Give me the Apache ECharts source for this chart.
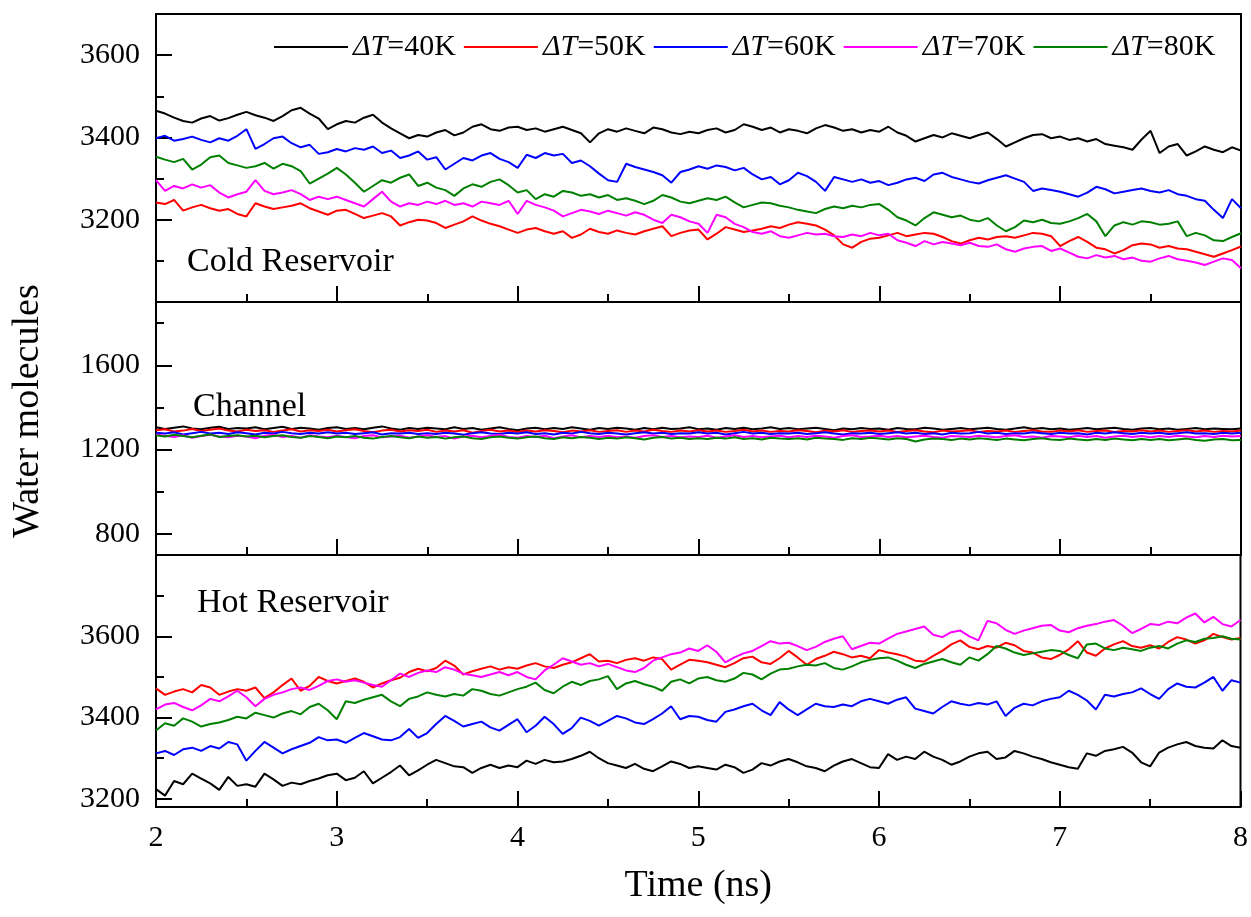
<!DOCTYPE html>
<html>
<head>
<meta charset="utf-8">
<title>Water molecules</title>
<script src="https://cdn.jsdelivr.net/npm/echarts@6.0.0/dist/echarts.min.js"></script>
<style>
html, body { margin: 0; padding: 0; background: #fff; }
#main { width: 1251px; height: 917px; }
</style>
</head>
<body>
<div id="main"></div>
<script>
// every series is sampled from 2 ns to 8 ns, one value every 0.05 ns (121 values)
var tStart = 2;
var tStep = 0.05;

var names = ['ΔT=40K', 'ΔT=50K', 'ΔT=60K', 'ΔT=70K', 'ΔT=80K'];
var colors = ['#000000', '#ff0000', '#0000ff', '#ff00ff', '#008000'];
var panelNames = ['Cold Reservoir', 'Channel', 'Hot Reservoir'];

// y ranges and ticks of the three panels
var coldRange = [3000, 3700];
var coldTicks = [3200, 3400, 3600];
var coldMinor = [3100, 3300, 3500];
var chanRange = [700, 1900];
var chanTicks = [800, 1200, 1600];
var chanMinor = [1000, 1400, 1800];
var hotRange = [3180, 3800];
var hotTicks = [3200, 3400, 3600];
var hotMinor = [3300, 3500, 3700];

// Cold Reservoir
var cold40 = [3465,3458,3448,3440,3436,3446,3452,3441,3447,3455,
	3462,3454,3448,3440,3452,3466,3472,3458,3446,3420,
	3432,3440,3436,3448,3455,3436,3422,3410,3398,3406,
	3402,3412,3418,3405,3412,3426,3432,3420,3416,3424,
	3426,3418,3422,3414,3420,3426,3418,3410,3388,3410,
	3420,3414,3422,3416,3410,3424,3420,3412,3408,3414,
	3410,3418,3422,3412,3418,3432,3426,3418,3424,3412,
	3420,3416,3410,3422,3430,3424,3416,3420,3412,3418,
	3414,3426,3412,3404,3390,3398,3406,3400,3410,3404,
	3398,3406,3412,3396,3378,3388,3398,3406,3408,3398,
	3402,3394,3398,3390,3396,3384,3380,3376,3370,3395,
	3416,3362,3378,3384,3356,3366,3378,3370,3364,3376,
	3368];
var cold50 = [3242,3238,3248,3222,3230,3236,3228,3222,3226,3214,
	3208,3240,3232,3226,3230,3234,3240,3228,3220,3212,
	3222,3224,3214,3204,3210,3216,3208,3186,3194,3200,
	3198,3192,3180,3188,3196,3208,3198,3190,3184,3176,
	3168,3176,3180,3172,3166,3172,3156,3164,3178,3170,
	3166,3174,3168,3164,3172,3178,3184,3160,3168,3174,
	3176,3152,3166,3182,3176,3170,3174,3178,3184,3180,
	3188,3194,3190,3186,3176,3162,3140,3132,3146,3154,
	3156,3162,3168,3160,3164,3168,3166,3158,3148,3142,
	3150,3156,3152,3158,3160,3156,3162,3168,3166,3160,
	3136,3148,3158,3146,3132,3128,3118,3126,3138,3142,
	3140,3132,3136,3130,3128,3122,3116,3110,3118,3126,
	3135];
var cold60 = [3398,3404,3392,3396,3402,3394,3388,3398,3392,3404,
	3420,3372,3384,3398,3402,3386,3376,3382,3360,3364,
	3372,3366,3374,3370,3378,3362,3368,3350,3356,3366,
	3346,3352,3322,3336,3350,3344,3356,3362,3348,3340,
	3326,3358,3350,3362,3356,3360,3338,3344,3330,3312,
	3296,3292,3336,3328,3322,3316,3308,3290,3316,3322,
	3330,3324,3332,3328,3320,3326,3310,3298,3304,3286,
	3296,3314,3306,3292,3270,3304,3298,3292,3298,3290,
	3294,3284,3290,3298,3302,3294,3310,3314,3304,3298,
	3292,3288,3296,3302,3308,3300,3292,3270,3276,3272,
	3268,3262,3256,3266,3280,3274,3264,3268,3272,3276,
	3270,3266,3272,3262,3258,3250,3246,3224,3204,3250,
	3228];
var cold70 = [3296,3270,3282,3276,3286,3278,3284,3266,3254,3262,
	3268,3296,3270,3262,3266,3272,3262,3248,3256,3250,
	3256,3248,3240,3232,3250,3268,3244,3232,3240,3236,
	3244,3238,3246,3236,3240,3232,3244,3240,3236,3246,
	3214,3246,3236,3230,3222,3208,3216,3224,3220,3214,
	3222,3216,3210,3218,3212,3200,3192,3212,3206,3196,
	3190,3168,3212,3206,3190,3182,3170,3166,3172,3160,
	3156,3162,3168,3164,3166,3160,3158,3164,3160,3168,
	3162,3166,3150,3144,3136,3148,3140,3146,3142,3138,
	3144,3136,3134,3140,3128,3122,3130,3134,3136,3124,
	3130,3120,3110,3106,3114,3108,3112,3104,3108,3100,
	3098,3106,3112,3104,3100,3096,3090,3098,3106,3102,
	3082];
var cold80 = [3353,3346,3340,3348,3322,3334,3352,3356,3338,3332,
	3326,3330,3338,3324,3336,3330,3318,3288,3300,3312,
	3326,3310,3290,3268,3282,3296,3290,3302,3310,3282,
	3290,3278,3272,3258,3276,3286,3280,3292,3298,3284,
	3266,3272,3250,3262,3256,3270,3266,3258,3262,3254,
	3260,3248,3252,3246,3238,3246,3260,3254,3244,3240,
	3246,3252,3248,3256,3242,3230,3236,3242,3240,3234,
	3230,3224,3220,3216,3226,3232,3228,3234,3230,3236,
	3238,3224,3206,3198,3186,3204,3218,3212,3206,3210,
	3200,3196,3204,3186,3172,3182,3198,3194,3200,3192,
	3190,3196,3204,3214,3196,3160,3186,3194,3188,3196,
	3194,3188,3190,3196,3160,3168,3162,3150,3148,3158,
	3167];

// Channel
var chan40 = [1306,1298,1304,1310,1300,1296,1304,1308,1298,1302,
	1300,1306,1296,1302,1308,1298,1304,1300,1294,1302,
	1306,1298,1302,1296,1304,1310,1300,1294,1302,1298,
	1304,1300,1296,1306,1298,1302,1294,1300,1306,1298,
	1292,1300,1304,1296,1302,1298,1306,1300,1294,1302,
	1298,1304,1300,1294,1302,1296,1304,1298,1300,1306,
	1296,1300,1294,1302,1298,1304,1296,1300,1306,1298,
	1302,1296,1300,1304,1298,1292,1300,1296,1302,1298,
	1300,1294,1302,1298,1296,1304,1300,1294,1298,1302,
	1296,1300,1304,1298,1294,1300,1306,1298,1302,1296,
	1300,1294,1298,1302,1296,1300,1304,1298,1294,1300,
	1302,1296,1300,1294,1298,1302,1296,1300,1298,1296,
	1300];
var chan50 = [1292,1296,1286,1290,1298,1288,1294,1300,1290,1286,
	1294,1288,1292,1284,1290,1296,1286,1292,1288,1294,
	1286,1292,1296,1288,1282,1290,1294,1286,1292,1288,
	1294,1284,1290,1286,1292,1280,1288,1294,1286,1290,
	1284,1290,1286,1292,1288,1282,1290,1286,1292,1284,
	1288,1292,1284,1290,1286,1294,1288,1284,1290,1286,
	1292,1286,1290,1284,1288,1294,1286,1290,1284,1288,
	1286,1292,1288,1282,1290,1286,1292,1284,1288,1290,
	1286,1290,1284,1288,1292,1286,1282,1290,1286,1288,
	1292,1284,1288,1286,1290,1284,1288,1292,1286,1284,
	1290,1286,1292,1284,1288,1290,1284,1288,1286,1292,
	1286,1290,1284,1288,1292,1286,1290,1284,1288,1286,
	1290];
var chan60 = [1280,1276,1282,1272,1278,1284,1276,1280,1274,1282,
	1278,1272,1280,1276,1284,1278,1274,1280,1276,1282,
	1276,1280,1274,1278,1282,1272,1278,1276,1280,1274,
	1278,1274,1280,1276,1270,1278,1282,1276,1274,1280,
	1276,1282,1274,1278,1272,1280,1276,1284,1278,1274,
	1280,1276,1272,1278,1282,1276,1280,1274,1278,1276,
	1282,1276,1280,1272,1278,1284,1276,1280,1274,1278,
	1276,1280,1274,1278,1282,1276,1272,1278,1276,1280,
	1274,1278,1282,1276,1280,1274,1278,1272,1280,1276,
	1278,1284,1276,1280,1274,1278,1276,1282,1278,1274,
	1280,1276,1278,1272,1280,1276,1282,1278,1274,1280,
	1276,1280,1274,1278,1282,1276,1278,1274,1280,1276,
	1280];
var chan70 = [1272,1266,1260,1268,1256,1264,1270,1262,1258,1266,
	1262,1254,1266,1270,1260,1264,1256,1268,1262,1258,
	1266,1260,1254,1264,1268,1258,1262,1266,1256,1262,
	1268,1260,1264,1252,1262,1266,1258,1264,1270,1260,
	1256,1264,1260,1266,1254,1262,1268,1258,1264,1260,
	1266,1258,1262,1256,1264,1268,1260,1264,1258,1262,
	1260,1266,1256,1262,1268,1260,1264,1258,1262,1266,
	1258,1264,1260,1266,1262,1256,1264,1268,1260,1262,
	1266,1260,1264,1258,1262,1266,1260,1256,1264,1262,
	1260,1266,1262,1258,1264,1268,1260,1262,1256,1264,
	1262,1258,1266,1260,1264,1256,1262,1266,1260,1264,
	1258,1264,1260,1266,1262,1258,1264,1260,1266,1262,
	1264];
var chan80 = [1268,1262,1270,1264,1258,1266,1272,1260,1264,1268,
	1262,1266,1258,1264,1268,1260,1256,1264,1260,1254,
	1262,1258,1264,1256,1252,1260,1264,1258,1254,1262,
	1256,1260,1252,1258,1262,1254,1250,1258,1262,1256,
	1252,1258,1262,1254,1250,1258,1254,1260,1256,1250,
	1256,1252,1258,1254,1248,1256,1260,1252,1256,1250,
	1254,1250,1256,1252,1258,1250,1254,1248,1256,1252,
	1250,1254,1248,1256,1252,1250,1246,1254,1250,1256,
	1252,1248,1254,1250,1238,1248,1252,1250,1246,1252,
	1248,1254,1250,1246,1252,1248,1244,1250,1254,1248,
	1246,1252,1248,1244,1250,1246,1252,1248,1244,1250,
	1246,1250,1244,1248,1252,1246,1242,1248,1250,1244,
	1246];

// Hot Reservoir
var hot40 = [3224,3208,3244,3236,3262,3250,3238,3222,3254,3232,
	3236,3230,3262,3248,3232,3240,3236,3244,3250,3258,
	3262,3246,3252,3268,3238,3252,3266,3282,3258,3270,
	3284,3296,3288,3280,3278,3264,3276,3284,3276,3282,
	3278,3294,3286,3296,3290,3292,3298,3306,3316,3300,
	3288,3282,3276,3286,3274,3268,3280,3292,3286,3276,
	3280,3276,3272,3284,3278,3264,3272,3288,3282,3292,
	3298,3290,3280,3276,3268,3282,3292,3298,3288,3278,
	3276,3310,3296,3304,3298,3316,3304,3296,3284,3292,
	3304,3312,3316,3298,3302,3318,3312,3304,3298,3290,
	3284,3278,3274,3312,3306,3318,3322,3328,3314,3290,
	3280,3314,3326,3334,3340,3330,3326,3324,3344,3330,
	3326];
var hot50 = [3472,3456,3464,3470,3462,3480,3474,3456,3464,3470,
	3466,3474,3448,3462,3480,3496,3466,3478,3500,3490,
	3484,3490,3496,3488,3474,3484,3492,3498,3512,3520,
	3514,3522,3540,3528,3506,3514,3520,3526,3518,3524,
	3520,3528,3534,3526,3522,3530,3536,3546,3556,3538,
	3540,3534,3542,3546,3540,3548,3544,3518,3530,3542,
	3540,3536,3530,3524,3534,3546,3550,3536,3532,3546,
	3564,3548,3530,3544,3552,3562,3556,3548,3552,3546,
	3566,3560,3556,3550,3540,3538,3552,3564,3580,3590,
	3574,3568,3576,3572,3584,3578,3564,3560,3548,3544,
	3554,3568,3588,3560,3552,3570,3580,3588,3576,3572,
	3578,3570,3586,3598,3592,3582,3590,3606,3598,3592,
	3596];
var hot60 = [3312,3318,3308,3322,3326,3318,3330,3324,3340,3334,
	3294,3318,3340,3326,3312,3322,3330,3338,3352,3344,
	3346,3338,3350,3362,3354,3346,3344,3352,3372,3350,
	3362,3384,3404,3392,3378,3384,3390,3376,3368,3382,
	3396,3364,3380,3402,3384,3360,3374,3400,3392,3380,
	3392,3404,3398,3388,3384,3396,3410,3428,3396,3404,
	3402,3394,3390,3414,3420,3428,3434,3418,3406,3438,
	3420,3406,3420,3434,3428,3426,3432,3428,3440,3446,
	3440,3434,3444,3450,3422,3416,3410,3426,3440,3434,
	3430,3436,3432,3440,3404,3424,3434,3430,3440,3446,
	3450,3466,3456,3442,3420,3456,3452,3458,3462,3472,
	3458,3446,3470,3484,3476,3474,3486,3500,3466,3492,
	3486];
var hot70 = [3420,3432,3436,3426,3418,3430,3446,3440,3452,3466,
	3450,3428,3446,3456,3462,3470,3474,3468,3478,3490,
	3494,3488,3492,3486,3480,3476,3492,3508,3500,3510,
	3516,3512,3524,3518,3508,3504,3500,3506,3512,3504,
	3512,3500,3494,3516,3530,3546,3538,3530,3534,3526,
	3532,3524,3516,3512,3522,3540,3548,3556,3560,3570,
	3564,3578,3562,3536,3548,3558,3564,3576,3588,3582,
	3584,3576,3566,3574,3586,3594,3600,3568,3576,3584,
	3582,3594,3606,3612,3618,3624,3604,3598,3610,3614,
	3600,3590,3638,3632,3616,3606,3614,3620,3626,3628,
	3614,3610,3620,3626,3630,3636,3640,3626,3608,3618,
	3630,3628,3636,3632,3646,3656,3634,3648,3630,3624,
	3640];
var hot80 = [3368,3386,3380,3398,3390,3378,3384,3388,3394,3402,
	3398,3412,3406,3400,3410,3416,3408,3426,3434,3418,
	3396,3440,3436,3444,3450,3456,3440,3428,3446,3452,
	3462,3456,3452,3458,3454,3470,3466,3458,3454,3462,
	3470,3476,3486,3468,3460,3476,3488,3480,3490,3494,
	3502,3470,3484,3490,3482,3476,3466,3488,3494,3484,
	3496,3500,3492,3488,3496,3510,3506,3494,3508,3518,
	3520,3526,3530,3528,3534,3522,3518,3526,3536,3542,
	3546,3548,3540,3530,3522,3532,3538,3544,3536,3530,
	3548,3540,3556,3576,3570,3560,3554,3558,3562,3566,
	3564,3554,3546,3580,3582,3570,3566,3572,3568,3564,
	3572,3576,3570,3582,3590,3586,3594,3596,3600,3594,
	3592];

var panelData = [
	[cold40, cold50, cold60, cold70, cold80],
	[chan40, chan50, chan60, chan70, chan80],
	[hot40, hot50, hot60, hot70, hot80]
];
var panelRanges = [coldRange, chanRange, hotRange];
var panelTicks = [coldTicks, chanTicks, hotTicks];
var panelMinor = [coldMinor, chanMinor, hotMinor];

var font = 'Liberation Serif, Times New Roman, serif';
var ink = '#000';
// grid boxes (px) of the three stacked panels
var grids = [
	{ left: 156, right: 10, top: 14, height: 288 },
	{ left: 156, right: 10, top: 302, height: 253 },
	{ left: 156, right: 10, top: 555, height: 252 }
];

//把数组变成 [时间, 值] 的点
function toPairs(arr) {
	return arr.map(function(v, i) {
		return [+(tStart + i * tStep).toFixed(2), v];
	});
}

//刻度数字不要千分位逗号
function plainNum(v) {
	return String(v);
}

var gridList = [];
var xAxes = [];
var yAxes = [];
var series = [];
var graphics = [];

for (var p = 0; p < 3; p++) {
	gridList.push({
		left: grids[p].left,
		right: grids[p].right,
		top: grids[p].top,
		height: grids[p].height,
		show: true,
		borderColor: ink,
		borderWidth: 2,
		backgroundColor: 'transparent'
	});
	xAxes.push({
		type: 'value',
		gridIndex: p,
		min: 2,
		max: 8,
		interval: 1,
		axisLine: { show: false, onZero: false },
		axisTick: { show: true, inside: true, length: 16, lineStyle: { color: ink, width: 2 } },
		minorTick: { show: true, splitNumber: 2, length: 8, lineStyle: { color: ink, width: 2 } },
		splitLine: { show: false },
		axisLabel: {
			show: p === 2,
			color: ink,
			fontFamily: font,
			fontSize: 30,
			margin: 16,
			formatter: plainNum
		},
		name: p === 2 ? 'Time (ns)' : '',
		nameLocation: 'middle',
		nameGap: 60,
		nameTextStyle: { color: ink, fontFamily: font, fontSize: 38 }
	});
	// labelled axis with the long ticks
	yAxes.push({
		type: 'value',
		gridIndex: p,
		position: 'left',
		min: panelRanges[p][0],
		max: panelRanges[p][1],
		axisLine: { show: false, onZero: false },
		axisTick: { show: true, inside: true, length: 16, customValues: panelTicks[p], lineStyle: { color: ink, width: 2 } },
		axisLabel: { show: true, customValues: panelTicks[p], color: ink, fontFamily: font, fontSize: 30, margin: 16, formatter: plainNum },
		splitLine: { show: false }
	});
	// second axis only for the short ticks
	yAxes.push({
		type: 'value',
		gridIndex: p,
		position: 'left',
		min: panelRanges[p][0],
		max: panelRanges[p][1],
		axisLine: { show: false, onZero: false },
		axisTick: { show: true, inside: true, length: 8, customValues: panelMinor[p], lineStyle: { color: ink, width: 2 } },
		axisLabel: { show: false },
		splitLine: { show: false }
	});
	for (var k = 0; k < 5; k++) {
		series.push({
			type: 'line',
			name: names[k],
			xAxisIndex: p,
			yAxisIndex: p * 2,
			data: toPairs(panelData[p][k]),
			symbol: 'none',
			showSymbol: false,
			lineStyle: { color: colors[k], width: 2 },
			itemStyle: { color: colors[k] },
			animation: false,
			silent: true
		});
	}
}

// panel captions
var captionPos = [[187, 262], [193, 407], [197, 603]];
for (var c = 0; c < 3; c++) {
	graphics.push({
		type: 'text',
		x: captionPos[c][0],
		y: captionPos[c][1],
		style: {
			text: panelNames[c],
			fill: ink,
			font: '34px ' + font,
			verticalAlign: 'middle'
		}
	});
}
// shared y title
graphics.push({
	type: 'text',
	x: 28,
	y: 411,
	rotation: Math.PI / 2,
	style: {
		text: 'Water molecules',
		fill: ink,
		font: '38px ' + font,
		align: 'center',
		verticalAlign: 'middle'
	}
});

var chart = echarts.init(document.getElementById('main'), null, { renderer: 'canvas' });
chart.setOption({
	backgroundColor: '#fff',
	animation: false,
	legend: {
		data: names,
		left: 274,
		top: 32,
		padding: 0,
		icon: 'rect',
		itemWidth: 74,
		itemHeight: 2,
		itemGap: 8,
		selectedMode: false,
		textStyle: {
			color: ink,
			fontFamily: font,
			fontSize: 30,
			width: 106,
			rich: {
				i: { fontStyle: 'italic', fontFamily: font, fontSize: 30, color: ink }
			}
		},
		formatter: function(name) {
			return '{i|ΔT}' + name.slice(2);
		}
	},
	grid: gridList,
	xAxis: xAxes,
	yAxis: yAxes,
	series: series,
	graphic: graphics
});
</script>
</body>
</html>
